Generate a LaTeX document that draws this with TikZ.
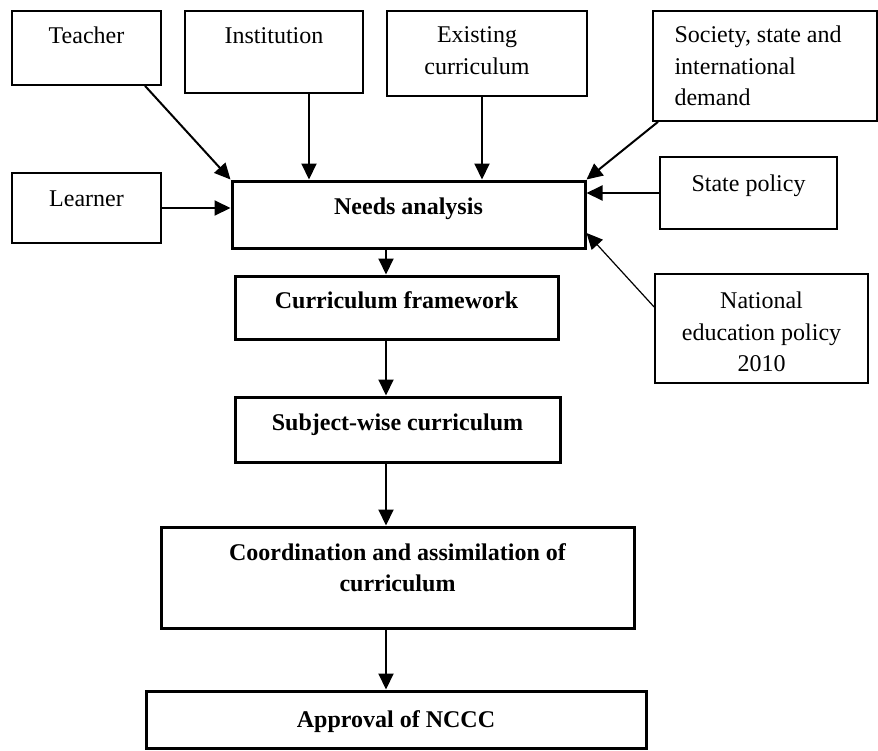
\documentclass[tikz,border=0pt]{standalone}
\usepackage{fontspec}
\setmainfont{Liberation Serif}
\usetikzlibrary{arrows.meta}

\begin{document}
\begin{tikzpicture}[x=0.5pt,y=-0.5pt,
	box/.style={draw,line width=0.85pt,inner sep=0pt},
	mainbox/.style={draw,line width=1.5pt,inner sep=0pt},
	boxtext/.style={anchor=north,inner sep=0pt,align=center,font=\fontsize{12}{15.8}\selectfont,yshift=-8.2pt},
	mainboxtext/.style={boxtext,font=\fontsize{12}{15.8}\selectfont\bfseries},
	arr/.style={line width=1pt,-{Triangle[length=8pt,width=7.5pt]}}]
						\useasboundingbox (0,0) rectangle (878,750);
						% inputs
						\node [box,minimum width=74.5pt,minimum height=37pt,label={[boxtext]north:Teacher}] (teacher) at (86.5,48) {};
						\node [box,minimum width=89pt,minimum height=41pt,label={[boxtext,yshift=-0.5pt]north:Institution}] (institution) at (274,52) {};
						\node [box,minimum width=100pt,minimum height=42.5pt,label={[boxtext,xshift=-5pt]north:Existing\\curriculum}] (existing) at (487,53.5) {};
						\node [box,minimum width=112pt,minimum height=55pt,label={[boxtext,anchor=north west,align=left,xshift=11pt,yshift=0.5pt]north west:Society, state and\\international\\demand}] (society) at (765,66) {};
						\node [box,minimum width=74.5pt,minimum height=35pt,label={[boxtext,yshift=-1pt]north:Learner}] (learner) at (86.5,208) {};
						\node [box,minimum width=88.5pt,minimum height=36pt,label={[boxtext,yshift=-1pt]north:State policy}] (state) at (748.5,193) {};
						\node [box,minimum width=106.5pt,minimum height=54.5pt,label={[boxtext,yshift=-1pt]north:National\\education policy\\2010}] (national) at (761.5,328.5) {};
						% main steps
						\node [mainbox,minimum width=176.5pt,minimum height=33.5pt,label={[mainboxtext,yshift=-1pt]north:Needs analysis}] (needs) at (408.5,214.5) {};
						\node [mainbox,minimum width=161.5pt,minimum height=31.5pt,label={[mainboxtext]north:Curriculum framework}] (framework) at (396.5,307.5) {};
						\node [mainbox,minimum width=162.5pt,minimum height=32.5pt,label={[mainboxtext,yshift=-1pt]north:Subject-wise curriculum}] (subject) at (397.5,429.5) {};
						\node [mainbox,minimum width=236.5pt,minimum height=50.5pt,label={[mainboxtext,yshift=-0.5pt]north:Coordination and assimilation of\\curriculum}] (coord) at (397.5,577.5) {};
						\node [mainbox,minimum width=250pt,minimum height=28.5pt,label={[mainboxtext,yshift=-2pt]north:Approval of NCCC}] (approval) at (396,719.5) {};
						% connectors
						\draw [arr] (145,0 |- teacher.south) -- (needs.north west);
						\draw [arr] (309,0 |- institution.south) -- (309,0 |- needs.north);
						\draw [arr] (482,0 |- existing.south) -- (482,0 |- needs.north);
						\draw [arr] (658,0 |- society.south) -- (needs.north east);
						\draw [arr] (state.west) -- (needs.east |- state.west);
						\draw [arr] (learner.east) -- (needs.west |- learner.east);
						\draw [arr,line width=0.6pt] (national.west |- 0,307) -- (needs.east |- 0,233);
						\coordinate (spine) at (386,0);
						\foreach \a/\b in {needs/framework,framework/subject,subject/coord,coord/approval}
							\draw [arr] (spine |- \a.south) -- (spine |- \b.north);
\end{tikzpicture}
\end{document}
